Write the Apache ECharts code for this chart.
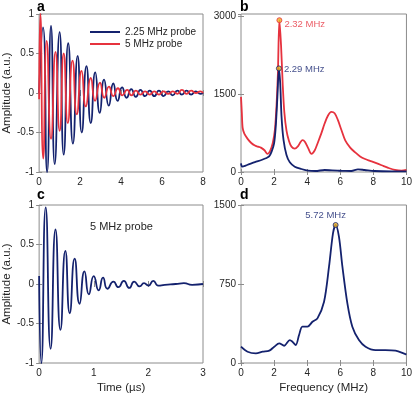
<!DOCTYPE html>
<html>
<head>
<meta charset="utf-8">
<script src="https://cdn.jsdelivr.net/npm/echarts@6/dist/echarts.min.js"></script>
<style>
  html, body { margin: 0; padding: 0; background: #fff; }
  #chart { width: 415px; height: 397px; }
</style>
</head>
<body>
<div id="chart"></div>
<script>
// panel a: time traces of both probes (extrema)
const timeBlueA = [0, 0.19, 0.39, 0.58, 0.76, 1.0, 1.2, 1.42, 1.65, 1.88, 2.08, 2.31, 2.52, 2.74, 2.96, 3.17, 3.4, 3.62, 3.83, 4.05, 4.27, 4.5, 4.72, 4.95, 5.17, 5.4, 5.62, 5.85, 6.07, 6.3, 6.52, 6.75, 6.97, 7.2, 7.42, 7.65, 7.87, 8.0]
const ampBlueA = [0, 0.83, -1.0, 0.85, -0.9, 0.77, -0.78, 0.63, -0.64, 0.47, -0.5, 0.34, -0.38, 0.26, -0.25, 0.17, -0.16, 0.12, -0.1, 0.07, -0.06, 0.05, -0.05, 0.04, -0.04, 0.03, -0.04, 0.03, -0.04, 0.02, -0.03, 0.03, -0.02, 0.03, -0.02, 0.02, -0.01, 0]
const timeRedA = [0, 0.06, 0.2, 0.37, 0.58, 0.8, 1.0, 1.2, 1.4, 1.63, 1.84, 2.07, 2.28, 2.52, 2.73, 2.97, 3.18, 3.41, 3.62, 3.85, 4.06, 4.3, 4.5, 4.72, 4.95, 5.17, 5.4, 5.62, 5.85, 6.07, 6.3, 6.52, 6.75, 6.97, 7.2, 7.42, 7.65, 7.87, 8.0]
const ampRedA = [-0.08, 1.0, -0.83, 0.66, -0.58, 0.52, -0.48, 0.5, -0.38, 0.41, -0.27, 0.28, -0.17, 0.19, -0.1, 0.13, -0.06, 0.08, -0.04, 0.06, -0.03, 0.04, -0.03, 0.03, -0.02, 0.02, -0.02, 0.02, -0.02, 0.02, -0.01, 0.02, -0.01, 0.04, -0.01, 0.03, 0.0, 0.02, 0.0]

// panel b: spectra
const freqRedB = [0, 0.05, 0.1, 0.2, 0.4, 0.62, 0.84, 1.02, 1.2, 1.42, 1.6, 1.75, 1.92, 2.05, 2.15, 2.23, 2.32, 2.42, 2.52, 2.62, 2.75, 2.9, 3.05, 3.25, 3.45, 3.6, 3.72, 3.86, 4.06, 4.26, 4.46, 4.66, 4.86, 5.06, 5.26, 5.46, 5.66, 5.86, 6.07, 6.3, 6.6, 6.9, 7.2, 7.5, 7.8, 8.1, 8.5, 8.9, 9.3, 9.7, 10]
const specRedB = [1450, 1150, 850, 740, 640, 560, 510, 490, 470, 420, 350, 400, 560, 820, 1300, 1900, 2930, 2450, 1700, 1150, 800, 600, 490, 450, 500, 580, 615, 585, 460, 350, 420, 580, 750, 940, 1090, 1160, 1135, 1000, 810, 610, 470, 380, 300, 250, 215, 180, 130, 80, 40, 25, 40]
const freqBlueB = [0, 0.07, 0.37, 0.84, 1.24, 1.5, 1.7, 1.85, 2.0, 2.1, 2.2, 2.29, 2.37, 2.45, 2.57, 2.75, 2.95, 3.25, 3.65, 4.06, 4.5, 5.06, 5.5, 5.86, 6.3, 6.67, 7.07, 7.47, 8.07, 9.08, 10]
const specBlueB = [167, 103, 135, 190, 232, 265, 300, 392, 553, 875, 1450, 2000, 1712, 1068, 618, 328, 187, 103, 58, 25, 19, 39, 30, 25, 20, 19, 51, 39, 19, 12, 12]
const peakFreqB = [2.32, 2.29]
const peakSpecB = [2930, 2000]
const peakLabelsB = ['2.32 MHz', '2.29 MHz']

// panel c: 5 MHz probe trace
const timeC = [0, 0.04, 0.12, 0.21, 0.3, 0.39, 0.48, 0.56, 0.65, 0.74, 0.83, 0.91, 1.0, 1.09, 1.17, 1.25, 1.36, 1.45, 1.55, 1.65, 1.74, 1.84, 1.92, 2.0, 2.09, 2.18, 2.3, 2.5, 2.65, 2.8, 3.0]
const ampC = [0.1, -1.0, 0.97, -0.82, 0.69, -0.58, 0.42, -0.37, 0.32, -0.25, 0.16, -0.13, 0.1, -0.08, 0.08, -0.06, 0.03, -0.04, 0.04, -0.05, 0.03, -0.03, 0.01, -0.02, 0.04, -0.02, -0.01, 0, 0.01, -0.01, 0]

// panel d: its spectrum
const freqD = [0, 0.4, 0.9, 1.31, 1.71, 2.01, 2.31, 2.61, 2.95, 3.11, 3.31, 3.51, 3.71, 4.02, 4.32, 4.62, 5.02, 5.32, 5.56, 5.72, 5.92, 6.13, 6.43, 6.73, 7.13, 7.53, 8.13, 8.73, 9.34, 9.94, 10]
const specD = [155, 107, 92, 107, 117, 155, 187, 164, 218, 202, 171, 266, 345, 345, 392, 424, 582, 914, 1231, 1310, 1199, 914, 566, 345, 218, 155, 123, 123, 117, 85, 82]
const peakFreqD = [5.72]
const peakSpecD = [1310]
const peakLabelsD = ['5.72 MHz']

const NAVY = '#14226e'
const RED = '#e6323e'
const ORANGE = '#edb120'
const FRAME = '#8c8c8c'
const TXT = '#262626'
const FONT = '"Liberation Sans", Arial, Helvetica, sans-serif'

const zip = (xs, ys) => xs.map((x, i) => [x, ys[i]])

const axis = (gridIndex, position, min, max, interval, name, mirror) => ({
  type: 'value',
  gridIndex,
  position,
  min,
  max,
  interval,
  name: name || '',
  nameLocation: 'middle',
  nameGap: position === 'left' ? 25 : 19,
  nameTextStyle: { fontSize: 11.5, color: TXT, fontFamily: FONT },
  axisLine: { show: false },
  axisTick: { show: true, inside: true, length: 3, lineStyle: { color: FRAME } },
  axisLabel: {
    show: !mirror,
    fontSize: 10,
    color: TXT,
    fontFamily: FONT,
    margin: 5,
    showMaxLabel: !(max === 3050),
    formatter: v => String(v)
  },
  splitLine: { show: false }
})

const grids = [
  { left: 38, top: 14, width: 165, height: 158 },
  { left: 241, top: 14, width: 166, height: 158 },
  { left: 38, top: 205, width: 165, height: 158 },
  { left: 241, top: 205, width: 166, height: 158 }
].map(g => Object.assign(g, { show: true, borderColor: FRAME, borderWidth: 1 }))

const peakSeries = (xi, freqs, vals, labels, edge, textColor, labelPos, offset) => ({
  type: 'scatter',
  xAxisIndex: xi,
  yAxisIndex: xi,
  symbol: 'circle',
  symbolSize: 5,
  z: 5,
  itemStyle: { color: ORANGE, borderColor: edge, borderWidth: 1 },
  label: {
    show: true,
    position: labelPos,
    distance: 2,
    offset: offset,
    color: textColor,
    fontSize: 9.5,
    fontFamily: FONT,
    formatter: p => labels[p.dataIndex]
  },
  data: zip(freqs, vals)
})

const lineSeries = (name, xi, data, color, smooth) => ({
  name,
  type: 'line',
  xAxisIndex: xi,
  yAxisIndex: xi,
  data,
  smooth,
  symbol: 'none',
  lineStyle: { color, width: 1.8 },
  itemStyle: { color }
})

const chart = echarts.init(document.getElementById('chart'))

chart.setOption({
  animation: false,
  grid: grids,
  xAxis: [
    axis(0, 'bottom', 0, 8, 2),
    axis(1, 'bottom', 0, 10, 2),
    axis(2, 'bottom', 0, 3, 1, 'Time (µs)'),
    axis(3, 'bottom', 0, 10, 2, 'Frequency (MHz)'),
    axis(0, 'top', 0, 8, 2, '', true),
    axis(1, 'top', 0, 10, 2, '', true),
    axis(2, 'top', 0, 3, 1, '', true),
    axis(3, 'top', 0, 10, 2, '', true)
  ],
  yAxis: [
    axis(0, 'left', -1, 1, 0.5, 'Amplitude (a.u.)'),
    axis(1, 'left', 0, 3050, 1500),
    axis(2, 'left', -1, 1, 0.5, 'Amplitude (a.u.)'),
    axis(3, 'left', 0, 1500, 750),
    axis(0, 'right', -1, 1, 0.5, '', true),
    axis(1, 'right', 0, 3050, 1500, '', true),
    axis(2, 'right', -1, 1, 0.5, '', true),
    axis(3, 'right', 0, 1500, 750, '', true)
  ],
  legend: {
    data: ['2.25 MHz probe', '5 MHz probe'],
    orient: 'vertical',
    left: 90,
    top: 26,
    padding: 0,
    icon: 'rect',
    itemWidth: 30,
    itemHeight: 2,
    itemGap: 0,
    textStyle: { fontSize: 10, color: TXT, fontFamily: FONT, lineHeight: 12 }
  },
  graphic: [
    { type: 'text', left: 37, top: 0, style: { text: 'a', font: 'bold 14px ' + FONT, fill: '#000' } },
    { type: 'text', left: 240, top: 0, style: { text: 'b', font: 'bold 14px ' + FONT, fill: '#000' } },
    { type: 'text', left: 37, top: 188, style: { text: 'c', font: 'bold 14px ' + FONT, fill: '#000' } },
    { type: 'text', left: 240, top: 188, style: { text: 'd', font: 'bold 14px ' + FONT, fill: '#000' } },
    { type: 'text', left: 90, top: 221, style: { text: '5 MHz probe', font: '11px ' + FONT, fill: TXT } }
  ],
  series: [
    lineSeries('2.25 MHz probe', 0, zip(timeBlueA, ampBlueA), NAVY, 0.6),
    lineSeries('5 MHz probe', 0, zip(timeRedA, ampRedA), RED, 0.6),
    lineSeries('red spectrum', 1, zip(freqRedB, specRedB), RED, 0.3),
    lineSeries('blue spectrum', 1, zip(freqBlueB, specBlueB), NAVY, 0.3),
    peakSeries(1, peakFreqB.slice(0, 1), peakSpecB.slice(0, 1), peakLabelsB.slice(0, 1), RED, RED, 'right', [0, 4]),
    peakSeries(1, peakFreqB.slice(1), peakSpecB.slice(1), peakLabelsB.slice(1), NAVY, NAVY, 'right', [0, 1]),
    lineSeries('5 MHz trace', 2, zip(timeC, ampC), NAVY, 0.6),
    lineSeries('5 MHz spectrum', 3, zip(freqD, specD), NAVY, 0.3),
    peakSeries(3, peakFreqD, peakSpecD, peakLabelsD, NAVY, NAVY, 'top', [-10, 0])
  ]
})
</script>
</body>
</html>
